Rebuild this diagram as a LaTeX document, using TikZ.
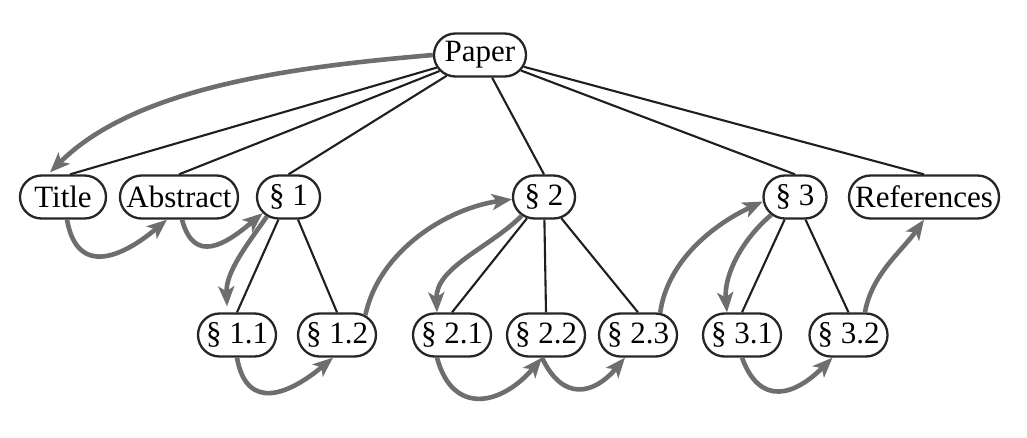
\documentclass[tikz,border=0pt]{standalone}
\usepackage{fontspec}
\setmainfont{Liberation Serif}
\newfontfamily\tnrfont{Liberation Serif}
\usetikzlibrary{shapes.misc,arrows.meta}
\begin{document}
\begin{tikzpicture}[x=1pt,y=1pt,
  box/.style={rounded rectangle, draw=black!85, line width=2.3pt, minimum height=43pt, inner xsep=2pt, inner ysep=0pt, font=\tnrfont\fontsize{31}{36}\selectfont},
  tree/.style={draw=black!88, line width=2.1pt},
  flow/.style={draw=black!57, line width=4.6pt, -{Stealth[length=20pt,width=16pt,inset=5pt]}},
]
\useasboundingbox[fill=white] (0,0) rectangle (1027,437);
% nodes
\node[box, minimum width=96pt] (paper) at (480,382) {Paper};
\node[box, minimum width=90pt] (title) at (63,240) {Title};
\node[box, minimum width=122pt] (abs) at (179,240) {Abstract};
\node[box, minimum width=67pt] (s1) at (288.5,240) {§ 1};
\node[box, minimum width=66pt] (s2) at (544,240) {§ 2};
\node[box, minimum width=67pt] (s3) at (795,240) {§ 3};
\node[box, minimum width=154pt] (refs) at (924,240) {References};
\node[box, minimum width=82pt] (s11) at (237,102) {§ 1.1};
\node[box, minimum width=82pt] (s12) at (337,102) {§ 1.2};
\node[box, minimum width=82pt] (s21) at (452,102) {§ 2.1};
\node[box, minimum width=82pt] (s22) at (546,102) {§ 2.2};
\node[box, minimum width=82pt] (s23) at (638,102) {§ 2.3};
\node[box, minimum width=82pt] (s31) at (742,102) {§ 3.1};
\node[box, minimum width=82pt] (s32) at (848.5,102) {§ 3.2};
% tree edges
\draw[tree] (paper) -- ([xshift=7pt]title.north);
\draw[tree] (paper) -- (abs.north);
\draw[tree] (paper) -- (s1.north);
\draw[tree] (paper) -- (s2.north);
\draw[tree] (paper) -- (s3.north);
\draw[tree] (paper) -- (refs.north);
\draw[tree] (s1) -- (s11.north);
\draw[tree] (s1) -- (s12.north);
\draw[tree] (s2) -- (s21.north);
\draw[tree] (s2) -- (s22.north);
\draw[tree] (s2) -- (s23.north);
\draw[tree] (s3) -- (s31.north);
\draw[tree] (s3) -- (s32.north);
% reading order
\draw[flow] (paper.west) to[out=185, in=45, looseness=0.8] ([xshift=-13pt,yshift=2pt]title.north);
\draw[flow] ([xshift=4pt]title.south) to[out=-80, in=-140, looseness=1.5] ([xshift=-12pt]abs.south);
\draw[flow] ([xshift=3pt]abs.south) to[out=-75, in=-140, looseness=1.5] (s1.212);
\draw[flow] (s1.222) to[out=235, in=92, looseness=0.9] ([xshift=-10pt,yshift=6pt]s11.north);
\draw[flow] (s11.south) to[out=-80, in=-140, looseness=1.5] ([xshift=-4pt]s12.south);
\draw[flow] (s12.35) to[out=78, in=188, looseness=0.9] (s2.184);
\draw[flow] (s2.220) to[out=225, in=92, looseness=0.9] ([xshift=-15pt]s21.north);
\draw[flow] ([xshift=-15pt]s21.south) to[out=-75, in=-130, looseness=1.5] ([xshift=-4pt]s22.south);
\draw[flow] ([xshift=-4pt]s22.south) to[out=-65, in=-130, looseness=1.5] ([xshift=-13pt]s23.south);
\draw[flow] (s23.45) to[out=82, in=205, looseness=0.9] (s3.188);
\draw[flow] (s3.217) to[out=220, in=95, looseness=0.9] ([xshift=-15pt]s31.north);
\draw[flow] (s31.south) to[out=-70, in=-135, looseness=1.5] ([xshift=-16pt]s32.south);
\draw[flow] (s32.54) to[out=80, in=235, looseness=0.9] (refs.south);
\end{tikzpicture}
\end{document}
